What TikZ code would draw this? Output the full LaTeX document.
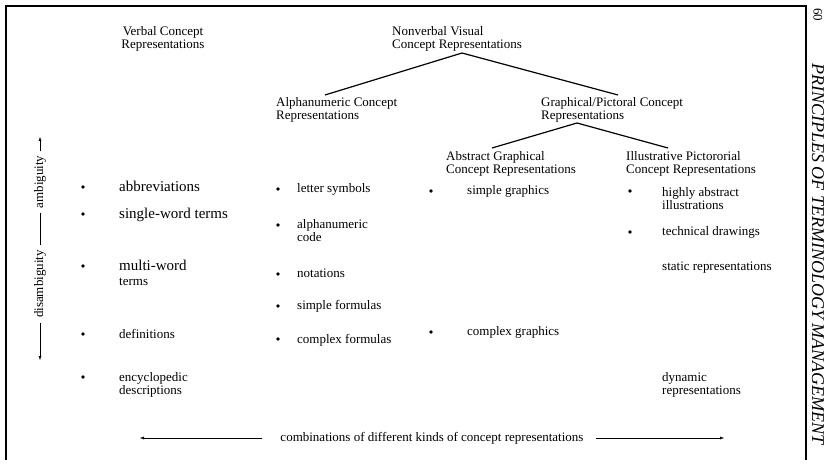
\documentclass[tikz,border=0pt]{standalone}
\usepackage{fontspec}
\setmainfont{Liberation Serif}
\usetikzlibrary{arrows.meta}

\begin{document}
\begin{tikzpicture}[x=1pt, y=-1pt, >={Latex[length=4pt,width=3pt]},
    every node/.style={inner sep=0pt},
    head/.style={font=\fontsize{13}{13}\selectfont, align=left, anchor=base west},
    item/.style={font=\fontsize{13}{13}\selectfont, align=left, anchor=base west},
    bigitem/.style={item, font=\fontsize{15}{15}\selectfont},
    bul/.style={circle, fill, inner sep=1.3pt},
    axislabel/.style={font=\fontsize{13}{13}\selectfont, rotate=90, fill=white, inner sep=5pt},
    branch/.style={line width=1.2pt}]

    \useasboundingbox (0,0) rectangle (828,465);

    % --- marco ---
    \draw[line width=1.1pt] (6,460) -- (6,6) -- (806,6) -- (806,460);
    \node[rotate=-90, font=\fontsize{13}{13}\selectfont] (pagenum) at (818,15) {60};
    \node[rotate=-90, font=\fontsize{18}{18}\selectfont\itshape] (runhead) at (818,254)
        {PRINCIPLES OF TERMINOLOGY MANAGEMENT};

    % --- encabezados (base = ultima linea) ---
    \node[head, align=center, anchor=base] (verbal) at (163,49) {Verbal Concept\\Representations};
    \node[head] (nonverbal) at (392,49) {Nonverbal Visual\\Concept Representations};
    \node[head] (alpha) at (276,120) {Alphanumeric Concept\\Representations};
    \node[head] (graph) at (541,120) {Graphical/Pictoral Concept\\Representations};
    \node[head] (abstract) at (446,174) {Abstract Graphical\\Concept Representations};
    \node[head] (illus) at (626,174) {Illustrative Pictororial\\Concept Representations};

    % --- ramas ---
    \coordinate (nv-fork) at (462,53);
    \coordinate (alpha-top) at (325,95);
    \coordinate (graph-top) at (618,95);
    \coordinate (gp-fork) at (577,123);
    \coordinate (abstract-top) at (492,148);
    \coordinate (illus-top) at (668,148);
    \draw[branch] (alpha-top) -- (nv-fork) -- (graph-top);
    \draw[branch] (abstract-top) -- (gp-fork) -- (illus-top);

    % --- eje vertical ---
    \coordinate (ax-top) at (40,137);
    \coordinate (ax-bot) at (40,360);
    \draw[<->] (ax-top) -- (ax-bot);
    \node[axislabel] (amb) at (40,182) {ambiguity};
    \node[axislabel] (disamb) at (40,284) {disambiguity};

    % --- verbal ---
    \node[bul] (b-abbr) at (83,187) {};
    \node[bigitem] (abbr) at (119,192) {abbreviations};
    \node[bul] (b-single) at (83,214) {};
    \node[bigitem] (single) at (119,219) {single-word terms};
    \node[bul] (b-multi) at (83,266) {};
    \node[bigitem] (multi) at (119,286) {multi-word\\{\fontsize{13}{13}\selectfont terms}};
    \node[bul] (b-defs) at (83,334) {};
    \node[item] (defs) at (119,338) {definitions};
    \node[bul] (b-ency) at (83,377) {};
    \node[item] (ency) at (119,394) {encyclopedic\\descriptions};

    % --- alfanumericas ---
    \node[bul] (b-letter) at (278,189) {};
    \node[item] (letter) at (297,193) {letter symbols};
    \node[bul] (b-code) at (278,225) {};
    \node[item] (code) at (297,242) {alphanumeric\\code};
    \node[bul] (b-notat) at (278,274) {};
    \node[item] (notat) at (297,278) {notations};
    \node[bul] (b-simpf) at (278,306) {};
    \node[item] (simpf) at (297,310) {simple formulas};
    \node[bul] (b-compf) at (278,339) {};
    \node[item] (compf) at (297,343) {complex formulas};

    % --- graficas ---
    \node[bul] (b-simpg) at (431,191) {};
    \node[item] (simpg) at (467,195) {simple graphics};
    \node[bul] (b-compg) at (431,332) {};
    \node[item] (compg) at (467,336) {complex graphics};

    % --- pictoricas ---
    \node[bul] (b-highly) at (630,191) {};
    \node[item] (highly) at (662,210) {highly abstract\\illustrations};
    \node[bul] (b-tech) at (630,232) {};
    \node[item] (tech) at (662,236) {technical drawings};
    \node[item] (static) at (662,271) {static representations};
    \node[item] (dynamic) at (662,394) {dynamic\\representations};

    % --- combinaciones ---
    \node[font=\fontsize{13}{13}\selectfont] (combo) at (432,438)
        {combinations of different kinds of concept representations};
    \coordinate (combo-l) at (140,438);
    \coordinate (combo-r) at (724,438);
    \draw[->] ([xshift=-18pt]combo.west) -- (combo-l);
    \draw[->] ([xshift=12pt]combo.east) -- (combo-r);

\end{tikzpicture}
\end{document}
